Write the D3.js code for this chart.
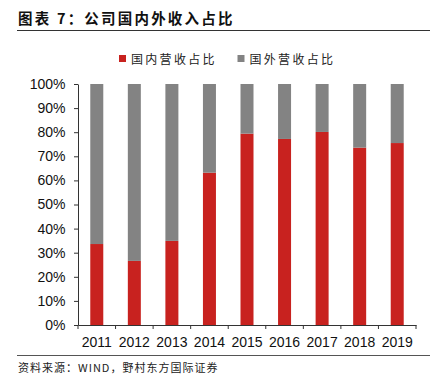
<!DOCTYPE html>
<html><head><meta charset="utf-8">
<script src="https://cdn.jsdelivr.net/npm/d3@7"></script>
<style>body{margin:0;background:#fff}svg{display:block}</style>
</head><body>
<script>
const categories = ["2011","2012","2013","2014","2015","2016","2017","2018","2019"];
const domestic = [33.6, 26.6, 34.9, 63.2, 79.4, 77.2, 80.1, 73.6, 75.5];
const foreign = domestic.map(d => 100 - d);
const seriesNames = ["国内营收占比", "国外营收占比"];
const colors = ["#C8221F", "#838383"];
const yTicks = [0,10,20,30,40,50,60,70,80,90,100];

const W = 437, H = 378;
const svg = d3.select("body").append("svg").attr("width", W).attr("height", H);
const font = "'Liberation Sans', Arial, sans-serif";
const cjk = "'Noto Sans CJK SC', sans-serif";

// title
svg.append("text").attr("x", 18).attr("y", 24).attr("font-family", cjk)
  .attr("font-size", 14.5).attr("font-weight", "bold").attr("letter-spacing", 2.2)
  .attr("fill", "#111").text("图表 7：公司国内外收入占比");
svg.append("line").attr("x1", 17).attr("x2", 430).attr("y1", 30.5).attr("y2", 30.5)
  .attr("stroke", "#333").attr("stroke-width", 1);

// legend
const legX = [119, 237.5];
seriesNames.forEach((n, i) => {
  svg.append("rect").attr("x", legX[i]).attr("y", 55).attr("width", 7).attr("height", 7).attr("fill", colors[i]);
  svg.append("text").attr("x", legX[i] + 12).attr("y", 63.5).attr("font-family", cjk)
    .attr("font-size", 12).attr("letter-spacing", 2.3).attr("fill", "#222").text(n);
});

const m = {left: 78, right: 416, top: 84, bottom: 325};
const x = d3.scaleBand().domain(categories).range([m.left, m.right]).paddingInner(0).paddingOuter(0);
const y = d3.scaleLinear().domain([0, 100]).range([m.bottom, m.top]);
const bw = 13;

const data = categories.map((c, i) => ({c, d: domestic[i], f: foreign[i]}));
const stack = d3.stack().keys(["d", "f"])(data);
stack.forEach((s, si) => {
  svg.append("g").selectAll("rect").data(s).join("rect")
    .attr("x", d => x(d.data.c) + x.bandwidth()/2 - bw/2)
    .attr("width", bw)
    .attr("y", d => y(d[1]))
    .attr("height", d => y(d[0]) - y(d[1]))
    .attr("fill", colors[si]);
});

// y axis
const ya = svg.append("g").attr("transform", `translate(${m.left},0)`)
  .call(d3.axisLeft(y).tickValues(yTicks).tickFormat(d => d + "%").tickSize(4).tickSizeOuter(0));
ya.select(".domain").attr("stroke", "#333");
ya.selectAll(".tick line").attr("stroke", "#333");
ya.selectAll("text").attr("font-family", font).attr("font-size", 14).attr("fill", "#111").attr("x", -12.5);

// x axis
const xa = svg.append("g").attr("transform", `translate(0,${m.bottom})`)
  .call(d3.axisBottom(x).tickSize(0).tickSizeOuter(0));
xa.select(".domain").attr("stroke", "#333");
xa.selectAll("text").attr("font-family", font).attr("font-size", 14).attr("fill", "#111").attr("dy", 0).attr("y", 21.5);
const bounds = categories.map(c => x(c)).concat([x(categories[categories.length-1]) + x.bandwidth()]);
xa.selectAll(".bt").data(bounds).join("line").attr("class","bt")
  .attr("x1", d => d).attr("x2", d => d).attr("y1", 0).attr("y2", 4).attr("stroke", "#333");

// footer
svg.append("line").attr("x1", 17).attr("x2", 430).attr("y1", 355.5).attr("y2", 355.5)
  .attr("stroke", "#555").attr("stroke-width", 1);
svg.append("text").attr("x", 18).attr("y", 372).attr("font-family", cjk)
  .attr("font-size", 11).attr("fill", "#222").attr("letter-spacing", 1)
  .text("资料来源：WIND，野村东方国际证券");
</script>
</body></html>
